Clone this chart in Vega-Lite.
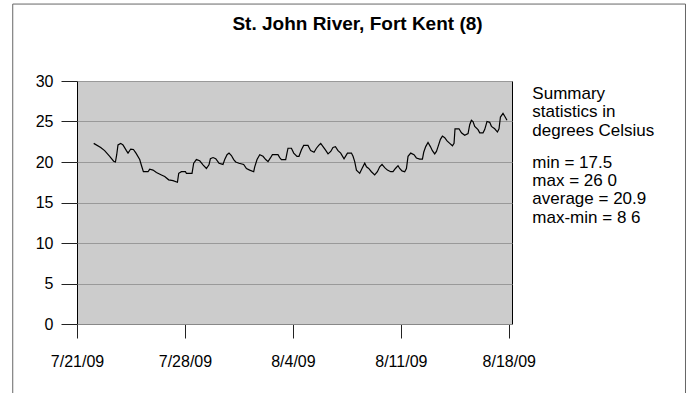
{
  "$schema": "https://vega.github.io/schema/vega-lite/v6.json",
  "autosize": {"type": "none"},
  "width": 435,
  "height": 243,
  "padding": {"left": 77, "top": 81, "right": 181, "bottom": 69},
  "background": "white",
  "config": {
    "font": "Liberation Sans",
    "view": {"fill": "#cccccc", "stroke": "#000000", "strokeWidth": 1}
  },
  "title": {
    "text": "St. John River, Fort Kent (8)",
    "font": "Liberation Sans",
    "fontSize": 19,
    "fontWeight": "bold",
    "color": "#000000",
    "anchor": "middle",
    "frame": "group",
    "baseline": "alphabetic",
    "offset": -45,
    "dx": 63
  },
  "data": {
    "values": [
      {"t": "2009-07-22T02:00", "temp": 22.3},
      {"t": "2009-07-22T12:54", "temp": 21.8},
      {"t": "2009-07-22T19:00", "temp": 21.4},
      {"t": "2009-07-23T02:54", "temp": 20.7},
      {"t": "2009-07-23T09:00", "temp": 20.1},
      {"t": "2009-07-23T11:48", "temp": 20.0},
      {"t": "2009-07-23T13:48", "temp": 20.9},
      {"t": "2009-07-23T15:48", "temp": 22.1},
      {"t": "2009-07-23T20:00", "temp": 22.3},
      {"t": "2009-07-23T23:36", "temp": 22.1},
      {"t": "2009-07-24T04:54", "temp": 21.4},
      {"t": "2009-07-24T07:24", "temp": 21.1},
      {"t": "2009-07-24T11:36", "temp": 21.6},
      {"t": "2009-07-24T15:48", "temp": 21.55},
      {"t": "2009-07-24T19:48", "temp": 21.1},
      {"t": "2009-07-25T01:36", "temp": 20.3},
      {"t": "2009-07-25T04:12", "temp": 19.6},
      {"t": "2009-07-25T07:18", "temp": 18.8},
      {"t": "2009-07-25T14:30", "temp": 18.8},
      {"t": "2009-07-25T17:06", "temp": 19.1},
      {"t": "2009-07-25T22:18", "temp": 19.0},
      {"t": "2009-07-26T03:36", "temp": 18.7},
      {"t": "2009-07-26T11:24", "temp": 18.4},
      {"t": "2009-07-26T16:30", "temp": 18.2},
      {"t": "2009-07-26T22:42", "temp": 17.8},
      {"t": "2009-07-27T05:24", "temp": 17.7},
      {"t": "2009-07-27T12:18", "temp": 17.5},
      {"t": "2009-07-27T14:18", "temp": 18.6},
      {"t": "2009-07-27T18:30", "temp": 18.8},
      {"t": "2009-07-28T00:42", "temp": 18.8},
      {"t": "2009-07-28T02:18", "temp": 18.6},
      {"t": "2009-07-28T11:00", "temp": 18.6},
      {"t": "2009-07-28T13:36", "temp": 19.85},
      {"t": "2009-07-28T17:48", "temp": 20.3},
      {"t": "2009-07-28T23:00", "temp": 20.15},
      {"t": "2009-07-29T04:06", "temp": 19.65},
      {"t": "2009-07-29T09:24", "temp": 19.2},
      {"t": "2009-07-29T13:24", "temp": 19.65},
      {"t": "2009-07-29T15:36", "temp": 20.4},
      {"t": "2009-07-29T19:42", "temp": 20.55},
      {"t": "2009-07-29T23:54", "temp": 20.4},
      {"t": "2009-07-30T05:00", "temp": 19.85},
      {"t": "2009-07-30T11:12", "temp": 19.7},
      {"t": "2009-07-30T13:54", "temp": 20.3},
      {"t": "2009-07-30T17:30", "temp": 20.9},
      {"t": "2009-07-30T20:36", "temp": 21.1},
      {"t": "2009-07-31T00:18", "temp": 20.8},
      {"t": "2009-07-31T03:54", "temp": 20.3},
      {"t": "2009-07-31T07:00", "temp": 20.0},
      {"t": "2009-07-31T12:06", "temp": 19.85},
      {"t": "2009-07-31T19:24", "temp": 19.7},
      {"t": "2009-07-31T23:42", "temp": 19.2},
      {"t": "2009-08-01T04:48", "temp": 19.0},
      {"t": "2009-08-01T11:00", "temp": 18.8},
      {"t": "2009-08-01T12:36", "temp": 19.4},
      {"t": "2009-08-01T16:12", "temp": 20.3},
      {"t": "2009-08-01T20:24", "temp": 20.9},
      {"t": "2009-08-02T01:30", "temp": 20.7},
      {"t": "2009-08-02T05:42", "temp": 20.3},
      {"t": "2009-08-02T09:18", "temp": 20.05},
      {"t": "2009-08-02T13:00", "temp": 20.5},
      {"t": "2009-08-02T16:06", "temp": 20.9},
      {"t": "2009-08-03T00:48", "temp": 20.9},
      {"t": "2009-08-03T03:30", "temp": 20.55},
      {"t": "2009-08-03T06:06", "temp": 20.3},
      {"t": "2009-08-03T12:48", "temp": 20.3},
      {"t": "2009-08-03T14:48", "temp": 21.1},
      {"t": "2009-08-03T16:24", "temp": 21.7},
      {"t": "2009-08-03T21:42", "temp": 21.7},
      {"t": "2009-08-04T01:18", "temp": 21.1},
      {"t": "2009-08-04T06:24", "temp": 20.7},
      {"t": "2009-08-04T09:30", "temp": 20.7},
      {"t": "2009-08-04T13:18", "temp": 21.5},
      {"t": "2009-08-04T16:48", "temp": 22.05},
      {"t": "2009-08-04T23:30", "temp": 22.05},
      {"t": "2009-08-05T03:42", "temp": 21.4},
      {"t": "2009-08-05T08:54", "temp": 21.2},
      {"t": "2009-08-05T12:36", "temp": 21.7},
      {"t": "2009-08-05T16:12", "temp": 22.05},
      {"t": "2009-08-05T19:18", "temp": 22.3},
      {"t": "2009-08-05T22:54", "temp": 21.9},
      {"t": "2009-08-06T02:36", "temp": 21.5},
      {"t": "2009-08-06T06:42", "temp": 21.0},
      {"t": "2009-08-06T10:54", "temp": 21.3},
      {"t": "2009-08-06T14:24", "temp": 21.8},
      {"t": "2009-08-06T18:12", "temp": 21.9},
      {"t": "2009-08-06T22:12", "temp": 21.4},
      {"t": "2009-08-07T02:24", "temp": 21.1},
      {"t": "2009-08-07T07:36", "temp": 20.4},
      {"t": "2009-08-07T12:54", "temp": 21.1},
      {"t": "2009-08-07T19:06", "temp": 21.1},
      {"t": "2009-08-07T21:36", "temp": 20.7},
      {"t": "2009-08-08T00:12", "temp": 20.05},
      {"t": "2009-08-08T02:54", "temp": 19.0},
      {"t": "2009-08-08T08:00", "temp": 18.6},
      {"t": "2009-08-08T11:36", "temp": 19.2},
      {"t": "2009-08-08T15:48", "temp": 19.85},
      {"t": "2009-08-08T18:30", "temp": 19.4},
      {"t": "2009-08-08T22:00", "temp": 19.2},
      {"t": "2009-08-09T02:12", "temp": 18.8},
      {"t": "2009-08-09T07:18", "temp": 18.4},
      {"t": "2009-08-09T11:30", "temp": 18.8},
      {"t": "2009-08-09T15:06", "temp": 19.4},
      {"t": "2009-08-09T18:42", "temp": 19.7},
      {"t": "2009-08-09T22:54", "temp": 19.3},
      {"t": "2009-08-10T03:06", "temp": 19.0},
      {"t": "2009-08-10T08:12", "temp": 18.8},
      {"t": "2009-08-10T11:48", "temp": 18.8},
      {"t": "2009-08-10T15:36", "temp": 19.2},
      {"t": "2009-08-10T19:36", "temp": 19.55},
      {"t": "2009-08-10T22:12", "temp": 19.2},
      {"t": "2009-08-11T01:48", "temp": 18.9},
      {"t": "2009-08-11T06:00", "temp": 18.8},
      {"t": "2009-08-11T08:42", "temp": 19.2},
      {"t": "2009-08-11T11:12", "temp": 20.7},
      {"t": "2009-08-11T15:24", "temp": 21.1},
      {"t": "2009-08-11T20:30", "temp": 20.9},
      {"t": "2009-08-12T00:12", "temp": 20.5},
      {"t": "2009-08-12T05:24", "temp": 20.35},
      {"t": "2009-08-12T09:36", "temp": 20.35},
      {"t": "2009-08-12T11:36", "temp": 21.2},
      {"t": "2009-08-12T14:42", "temp": 21.9},
      {"t": "2009-08-12T18:18", "temp": 22.4},
      {"t": "2009-08-12T22:00", "temp": 21.9},
      {"t": "2009-08-13T01:06", "temp": 21.4},
      {"t": "2009-08-13T04:42", "temp": 21.0},
      {"t": "2009-08-13T07:24", "temp": 21.3},
      {"t": "2009-08-13T09:54", "temp": 21.9},
      {"t": "2009-08-13T13:36", "temp": 22.8},
      {"t": "2009-08-13T16:42", "temp": 23.2},
      {"t": "2009-08-13T20:18", "temp": 23.0},
      {"t": "2009-08-13T23:54", "temp": 22.6},
      {"t": "2009-08-14T04:06", "temp": 22.3},
      {"t": "2009-08-14T08:18", "temp": 22.0},
      {"t": "2009-08-14T10:48", "temp": 22.3},
      {"t": "2009-08-14T12:18", "temp": 24.1},
      {"t": "2009-08-14T18:30", "temp": 24.1},
      {"t": "2009-08-14T22:18", "temp": 23.6},
      {"t": "2009-08-15T03:24", "temp": 23.3},
      {"t": "2009-08-15T08:36", "temp": 23.5},
      {"t": "2009-08-15T11:12", "temp": 24.6},
      {"t": "2009-08-15T13:48", "temp": 25.15},
      {"t": "2009-08-15T16:18", "temp": 25.0},
      {"t": "2009-08-15T19:00", "temp": 24.4},
      {"t": "2009-08-16T00:06", "temp": 24.0},
      {"t": "2009-08-16T02:48", "temp": 23.6},
      {"t": "2009-08-16T07:54", "temp": 23.6},
      {"t": "2009-08-16T10:30", "temp": 24.0},
      {"t": "2009-08-16T14:06", "temp": 25.0},
      {"t": "2009-08-16T18:18", "temp": 24.9},
      {"t": "2009-08-16T21:00", "temp": 24.4},
      {"t": "2009-08-17T02:06", "temp": 24.1},
      {"t": "2009-08-17T06:18", "temp": 23.7},
      {"t": "2009-08-17T08:48", "temp": 24.1},
      {"t": "2009-08-17T11:00", "temp": 25.55},
      {"t": "2009-08-17T15:00", "temp": 26.0},
      {"t": "2009-08-17T17:42", "temp": 25.65},
      {"t": "2009-08-17T21:12", "temp": 25.15}
    ]
  },
  "encoding": {
    "x": {
      "field": "t",
      "type": "temporal",
      "scale": {
        "domain": [
          {"year": 2009, "month": 7, "date": 21},
          {"year": 2009, "month": 8, "date": 18, "hours": 5}
        ],
        "nice": false
      },
      "axis": {
        "title": null,
        "values": [
          {"year": 2009, "month": 7, "date": 21},
          {"year": 2009, "month": 7, "date": 28},
          {"year": 2009, "month": 8, "date": 4},
          {"year": 2009, "month": 8, "date": 11},
          {"year": 2009, "month": 8, "date": 18}
        ],
        "format": "%-m/%-d/%y",
        "grid": false,
        "domain": true,
        "domainColor": "#888888",
        "tickSize": 14,
        "tickColor": "#222222",
        "labelFont": "Liberation Sans",
        "labelFontSize": 16,
        "labelColor": "#000000",
        "labelPadding": 15,
        "labelFlush": false,
        "labelOverlap": false
      }
    },
    "y": {
      "field": "temp",
      "type": "quantitative",
      "scale": {"domain": [0, 30], "nice": false, "zero": true},
      "axis": {
        "title": null,
        "values": [0, 5, 10, 15, 20, 25, 30],
        "grid": true,
        "gridColor": "#999999",
        "domain": false,
        "tickSize": 16,
        "tickColor": "#222222",
        "labelFont": "Liberation Sans",
        "labelFontSize": 16,
        "labelColor": "#000000",
        "labelPadding": 8
      }
    }
  },
  "layer": [
    {
      "mark": {"type": "line", "color": "#000000", "strokeWidth": 1.2, "clip": true}
    },
    {
      "mark": {"type": "rect", "fill": "transparent", "stroke": "#666666", "strokeWidth": 1},
      "encoding": {
        "x": {"datum": {"year": 2009, "month": 7, "date": 16, "hours": 20}, "type": "temporal"},
        "x2": {"datum": {"year": 2009, "month": 8, "date": 29, "hours": 11}},
        "y": {"datum": 39.5, "type": "quantitative"},
        "y2": {"datum": -9.5},
        "strokeOpacity": {"condition": {"test": "datum.temp == 26", "value": 1}, "value": 0}
      }
    },
    {
      "mark": {"type": "text", "align": "left", "baseline": "alphabetic", "font": "Liberation Sans", "fontSize": 17, "lineHeight": 18.2, "color": "#000000"},
      "encoding": {
        "x": {"datum": {"year": 2009, "month": 8, "date": 19, "hours": 12, "minutes": 40}, "type": "temporal"},
        "y": {"datum": 27.74, "type": "quantitative"},
        "text": {"condition": {"test": "datum.temp == 26", "value": ["Summary", "statistics in", "degrees Celsius"]}, "value": ""}
      }
    },
    {
      "mark": {"type": "text", "align": "left", "baseline": "alphabetic", "font": "Liberation Sans", "fontSize": 17, "lineHeight": 18.2, "color": "#000000"},
      "encoding": {
        "x": {"datum": {"year": 2009, "month": 8, "date": 19, "hours": 12, "minutes": 40}, "type": "temporal"},
        "y": {"datum": 19.26, "type": "quantitative"},
        "text": {"condition": {"test": "datum.temp == 26", "value": ["min = 17.5", "max = 26 0", "average = 20.9", "max-min = 8 6"]}, "value": ""}
      }
    }
  ]
}
